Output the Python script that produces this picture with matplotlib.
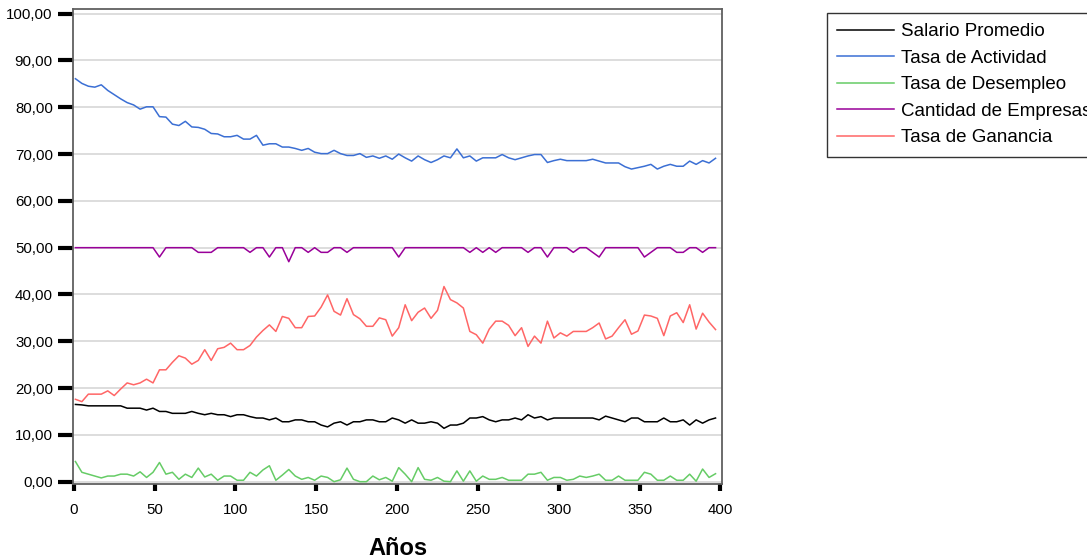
import numpy as np
import matplotlib
matplotlib.use('Agg')
import matplotlib.pyplot as plt
from matplotlib.ticker import FuncFormatter

plt.rcParams['font.family'] = ['Liberation Sans', 'DejaVu Sans']

# Años (one point every 4 years)
anios = np.arange(1, 400, 4)

salario = [16.5, 16.4, 16.2, 16.2, 16.2, 16.2, 16.2, 16.2, 15.7, 15.7,
           15.7, 15.3, 15.7, 15.0, 15.0, 14.6, 14.6, 14.6, 15.0, 14.6,
           14.3, 14.6, 14.3, 14.3, 13.9, 14.3, 14.3, 13.9, 13.6, 13.6,
           13.2, 13.6, 12.8, 12.8, 13.2, 13.2, 12.8, 12.8, 12.1, 11.7,
           12.5, 12.8, 12.1, 12.8, 12.8, 13.2, 13.2, 12.8, 12.8, 13.6,
           13.2, 12.5, 13.2, 12.5, 12.5, 12.8, 12.5, 11.4, 12.1, 12.1,
           12.5, 13.6, 13.6, 13.9, 13.2, 12.8, 13.2, 13.2, 13.6, 13.2,
           14.3, 13.6, 13.9, 13.2, 13.6, 13.6, 13.6, 13.6, 13.6, 13.6,
           13.6, 13.2, 14.0, 13.6, 13.2, 12.8, 13.6, 13.6, 12.8, 12.8,
           12.8, 13.6, 12.8, 12.8, 13.2, 12.1, 13.2, 12.5, 13.2, 13.6]

actividad = [86.1, 85.1, 84.5, 84.3, 84.8, 83.6, 82.7, 81.8, 81.0, 80.5,
             79.6, 80.1, 80.1, 78.0, 77.9, 76.4, 76.1, 77.0, 75.8, 75.7,
             75.3, 74.4, 74.3, 73.7, 73.7, 74.0, 73.2, 73.2, 74.0, 71.9,
             72.2, 72.2, 71.5, 71.5, 71.2, 70.8, 71.2, 70.4, 70.1, 70.1,
             70.8, 70.1, 69.7, 69.7, 70.1, 69.3, 69.6, 69.1,
             69.6, 68.9, 70.0, 69.2, 68.5, 69.6, 68.8, 68.2, 68.8, 69.6,
             69.2, 71.1, 69.2, 69.6, 68.5, 69.2, 69.2, 69.2, 69.9, 69.2,
             68.8, 69.2, 69.6, 69.9, 69.9, 68.2, 68.6, 68.9, 68.6, 68.6,
             68.6, 68.6, 68.9, 68.5, 68.1, 68.1, 68.1, 67.3, 66.8, 67.1,
             67.4, 67.8, 66.8, 67.4, 67.8, 67.4, 67.4, 68.5, 67.8, 68.6,
             68.1, 69.1]

desempleo = [4.3, 2.0, 1.6, 1.2, 0.8, 1.2, 1.2, 1.6, 1.6, 1.2,
             2.1, 0.9, 2.0, 4.1, 1.6, 2.0, 0.5, 1.6, 0.9, 2.9,
             1.0, 1.6, 0.3, 1.2, 1.2, 0.3, 0.3, 2.0, 1.2, 2.5,
             3.4, 0.3, 1.4, 2.6, 1.2, 0.5, 0.9, 0.3, 1.2, 0.9,
             0.0, 0.4, 2.9, 0.5, 0.0, 0.0, 1.2, 0.4,
             0.9, 0.1, 3.0, 1.6, 0.0, 3.0, 0.5, 0.3, 0.9, 0.1,
             0.0, 2.3, 0.1, 2.3, 0.1, 1.2, 0.5, 0.5, 0.9, 0.3,
             0.3, 0.3, 1.6, 1.6, 2.0, 0.3, 0.9, 0.9, 0.3, 0.5,
             1.2, 0.9, 1.2, 1.6, 0.3, 0.3, 1.2, 0.3, 0.3, 0.3,
             2.0, 1.6, 0.3, 0.3, 1.2, 0.3, 0.3, 1.6, 0.1, 2.7,
             0.9, 1.7]

empresas = [50, 50, 50, 50, 50, 50, 50, 50, 50, 50,
            50, 50, 50, 48, 50, 50, 50, 50, 50, 49,
            49, 49, 50, 50, 50, 50, 50, 49, 50, 50,
            48, 50, 50, 47, 50, 50, 49, 50, 49, 49,
            50, 50, 49, 50, 50, 50, 50, 50, 50, 50,
            48, 50, 50, 50, 50, 50, 50, 50, 50, 50,
            50, 49, 50, 49, 50, 49, 50, 50, 50, 50,
            49, 50, 50, 48, 50, 50, 50, 49, 50, 50,
            49, 48, 50, 50, 50, 50, 50, 50, 48, 49,
            50, 50, 50, 49, 49, 50, 50, 49, 50, 50]

ganancia = [17.6, 17.1, 18.7, 18.7, 18.7, 19.4, 18.4, 19.8, 21.1, 20.7,
            21.1, 21.9, 21.1, 23.9, 23.9, 25.5, 26.9, 26.4, 25.1, 25.9,
            28.2, 25.9, 28.4, 28.7, 29.6, 28.2, 28.2, 29.1, 30.9, 32.3,
            33.5, 32.1, 35.3, 34.9, 32.9, 32.9, 35.3, 35.4, 37.3, 39.9,
            36.4, 35.6, 39.1, 35.7, 34.8, 33.2, 33.2, 35.0,
            34.6, 31.1, 32.9, 37.8, 34.4, 36.2, 37.1, 34.9, 36.6, 41.7,
            38.9, 38.2, 37.1, 32.1, 31.4, 29.6, 32.6, 34.3, 34.3, 33.4,
            31.2, 32.9, 28.9, 31.1, 29.6, 34.3, 30.7, 31.8, 31.1, 32.1,
            32.1, 32.1, 32.9, 33.9, 30.5, 31.1, 32.9, 34.6, 31.5, 32.2,
            35.6, 35.4, 34.9, 31.2, 35.4, 36.1, 34.0, 37.8, 32.6, 36.0,
            34.1, 32.5]

series = [
    ('Salario Promedio', salario, '#000000'),
    ('Tasa de Actividad', actividad, '#3B6FD4'),
    ('Tasa de Desempleo', desempleo, '#66CC66'),
    ('Cantidad de Empresas', empresas, '#990099'),
    ('Tasa de Ganancia', ganancia, '#FF6666'),
]

fig = plt.figure(figsize=(10.87, 5.6), dpi=100)
ax = fig.add_axes([73 / 1087, 1 - 484 / 560, (722 - 73) / 1087, (484 - 9) / 560])

for label, vals, color in series:
    ax.plot(anios, vals, color=color, lw=1.1, label=label)

ax.set_xlim(-0.5, 401)
ax.set_ylim(-0.5, 101)
ax.set_yticks(np.arange(0, 101, 10))
ax.set_xticks(np.arange(0, 401, 50))
ax.yaxis.set_major_formatter(FuncFormatter(lambda v, p: f'{v:.2f}'.replace('.', ',')))

ax.grid(axis='y', color='#DDDDDD', lw=1.4)
ax.set_axisbelow(True)
for s in ax.spines.values():
    s.set_color('#606060')
    s.set_linewidth(1.3)

ax.tick_params(axis='y', length=10.5, width=3, color='black', pad=4, labelsize=10.8)
ax.tick_params(axis='x', length=5, width=3, color='black', pad=9, labelsize=10.8)

ax.set_xlabel('Años', fontsize=17, fontweight='bold', labelpad=14)

# legend box runs past the right edge, as in the original
fig.legend(loc='upper left', bbox_to_anchor=(827 / 1087, 1 - 13 / 560),
           bbox_transform=fig.transFigure, borderaxespad=0, fontsize=13.5,
           handlelength=3.0, handletextpad=0.4, labelspacing=0.5,
           borderpad=0.55, fancybox=False, edgecolor='#333333', framealpha=1)

plt.savefig('out.png', dpi=100)
